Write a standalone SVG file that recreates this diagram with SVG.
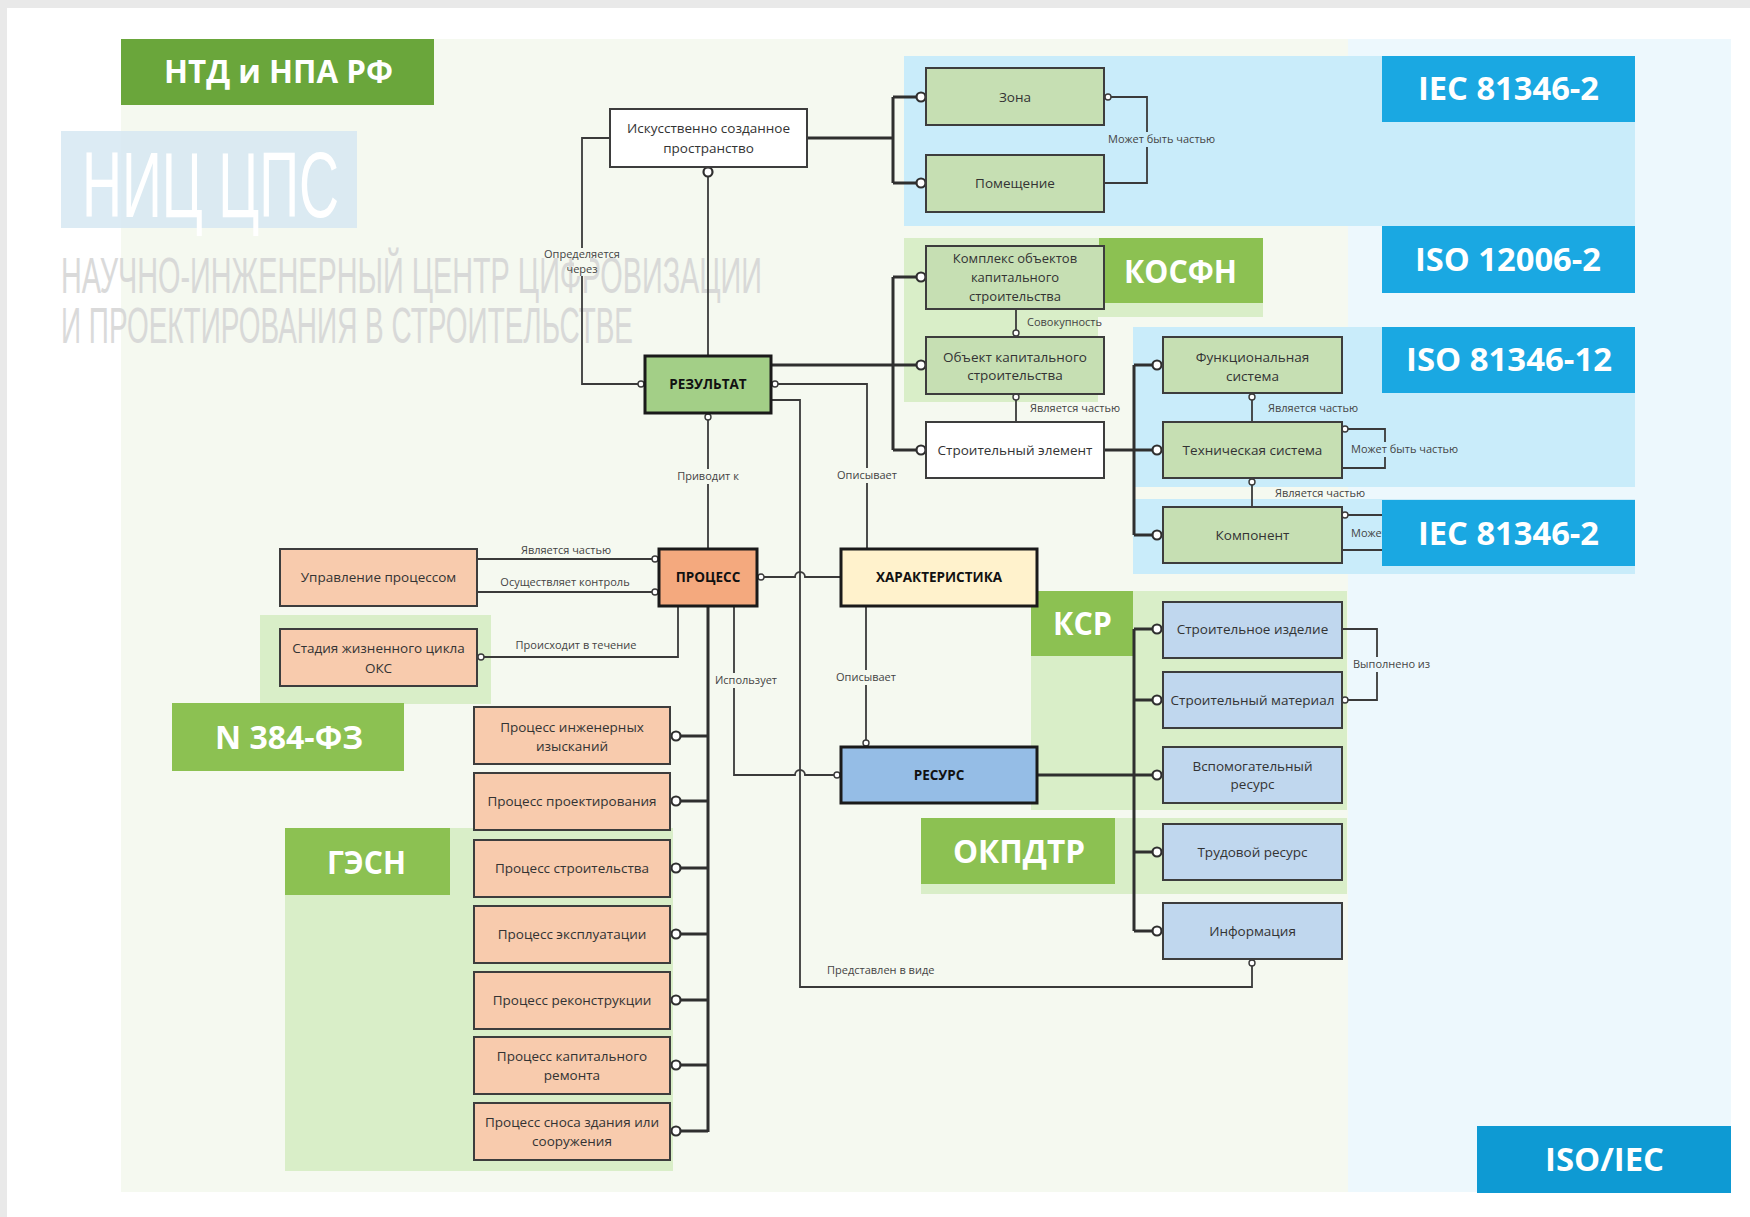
<svg xmlns="http://www.w3.org/2000/svg" width="1750" height="1217" viewBox="0 0 1750 1217">
  <defs>
    <style>
      .frame { fill: #e9e9e9; }
      .bg-g { fill: #f5f9f0; }
      .bg-b { fill: #edf8fd; }
      .band { fill: #c9ecfa; }
      .zone { fill: #d9eec8; }
      .tag-dark { fill: #6aa63b; }
      .tag-g { fill: #8cc152; }
      .tag-b { fill: #1aa8e2; }
      .tag-b2 { fill: #0e9ad3; }
      .tag-t { font-family: "Open Sans", "Liberation Sans", sans-serif; font-weight: 700; font-size: 33px; fill: #ffffff; }
      .wm { font-family: "Liberation Sans", "DejaVu Sans", sans-serif; font-size: 50px; fill: #d4d4d4; opacity: 0.85; }
      .node rect { stroke: #3d3d3d; stroke-width: 2; }
      .node.main rect { stroke: #1a1a1a; stroke-width: 3; }
      .f-w { fill: #ffffff; }
      .f-g { fill: #c6dfb3; }
      .f-p { fill: #f8cbad; }
      .f-r { fill: #c0d7ee; }
      .node text { font-family: "Open Sans", "Liberation Sans", sans-serif; font-size: 13.5px; fill: #333333; text-anchor: middle; }
      .node text.sm { font-size: 13px; }
      .node.main text { font-weight: 700; fill: #111111; font-size: 13.5px; }
      .c { fill: none; stroke: #3a3a3a; stroke-width: 1.8; }
      .ct { fill: none; stroke: #2f2f2f; stroke-width: 3; }
      .o { fill: #ffffff; stroke: #2f2f2f; stroke-width: 2.2; }
      .os { fill: #ffffff; stroke: #3a3a3a; stroke-width: 1.4; }
      .lbl { font-family: "Open Sans", "Liberation Sans", sans-serif; font-size: 11px; fill: #444444; }
      .mid { text-anchor: middle; }
    </style>
  </defs>

  <!-- page and tinted panels -->
  <rect width="1750" height="1217" fill="#ffffff"/>
  <rect class="frame" x="0" y="0" width="1750" height="8"/>
  <rect class="frame" x="0" y="0" width="7" height="1217"/>
  <rect class="bg-g" x="121" y="39" width="1227" height="1153"/>
  <rect class="bg-b" x="1348" y="39" width="383" height="1153"/>

  <!-- standard coverage areas -->
  <g id="areas">
    <rect class="band" x="904" y="56" width="731" height="170"/>
    <path class="zone" d="M904,238 H1263 V317 H1098 V402 H904 Z"/>
    <rect class="band" x="1133" y="327" width="502" height="160"/>
    <rect class="band" x="1133" y="499" width="502" height="75"/>
    <rect class="zone" x="1031" y="591" width="316" height="219"/>
    <rect class="zone" x="921" y="818" width="426" height="76"/>
    <rect class="zone" x="260" y="615" width="231" height="89"/>
    <rect class="zone" x="285" y="828" width="388" height="343"/>
  </g>

  <!-- watermark -->
  <g id="watermark">
    <rect x="61" y="131" width="296" height="97" fill="#d6e7f2" opacity="0.85"/>
    <text x="82" y="217" font-family="Liberation Sans, DejaVu Sans, sans-serif" font-size="92" fill="#ffffff" textLength="257" lengthAdjust="spacingAndGlyphs">НИЦ ЦПС</text>
    <text class="wm" x="61" y="293" textLength="701" lengthAdjust="spacingAndGlyphs">НАУЧНО-ИНЖЕНЕРНЫЙ ЦЕНТР ЦИФРОВИЗАЦИИ</text>
    <text class="wm" x="61" y="343" textLength="572" lengthAdjust="spacingAndGlyphs">И ПРОЕКТИРОВАНИЯ В СТРОИТЕЛЬСТВЕ</text>
  </g>

  <!-- standard tags -->
  <g id="tag-ntd">
    <rect class="tag-dark" x="121" y="39" width="313" height="66"/>
    <text class="tag-t" x="164" y="83" font-size="31" textLength="229" lengthAdjust="spacingAndGlyphs">НТД и НПА РФ</text>
  </g>
  <g id="tag-iec-1">
    <rect class="tag-b" x="1382" y="56" width="253" height="66"/>
    <text class="tag-t" x="1418" y="100" textLength="181" lengthAdjust="spacingAndGlyphs">IEC 81346-2</text>
  </g>
  <g id="tag-iso-12006">
    <rect class="tag-b" x="1382" y="226" width="253" height="67"/>
    <text class="tag-t" x="1415" y="271" textLength="186" lengthAdjust="spacingAndGlyphs">ISO 12006-2</text>
  </g>
  <g id="tag-iso-81346">
    <rect class="tag-b" x="1382" y="327" width="253" height="66"/>
    <text class="tag-t" x="1406" y="371" textLength="206" lengthAdjust="spacingAndGlyphs">ISO 81346-12</text>
  </g>
  <g id="tag-kosfn">
    <rect class="tag-g" x="1099" y="238" width="164" height="65"/>
    <text class="tag-t" x="1124" y="283" textLength="113" lengthAdjust="spacingAndGlyphs">КОСФН</text>
  </g>
  <g id="tag-ksr">
    <rect class="tag-g" x="1031" y="591" width="102" height="65"/>
    <text class="tag-t" x="1053" y="635" textLength="59" lengthAdjust="spacingAndGlyphs">КСР</text>
  </g>
  <g id="tag-384">
    <rect class="tag-g" x="172" y="703" width="232" height="68"/>
    <text class="tag-t" x="215" y="749" textLength="148" lengthAdjust="spacingAndGlyphs">N 384-ФЗ</text>
  </g>
  <g id="tag-gesn">
    <rect class="tag-g" x="285" y="828" width="165" height="67"/>
    <text class="tag-t" x="327" y="874" textLength="79" lengthAdjust="spacingAndGlyphs">ГЭСН</text>
  </g>
  <g id="tag-okpdtr">
    <rect class="tag-g" x="921" y="818" width="194" height="66"/>
    <text class="tag-t" x="953" y="863" textLength="132" lengthAdjust="spacingAndGlyphs">ОКПДТР</text>
  </g>
  <g id="tag-isoiec">
    <rect class="tag-b2" x="1477" y="1126" width="254" height="67"/>
    <text class="tag-t" x="1545" y="1171" textLength="119" lengthAdjust="spacingAndGlyphs">ISO/IEC</text>
  </g>

  <!-- connectors -->
  <g id="connectors">
    <!-- space -> zone / room -->
    <path class="ct" d="M807,138 H893 M893,97 V183 M893,97 H917 M893,183 H917"/>
    <path class="c" d="M1111,97 H1147 V183 H1104"/>
    <rect x="1106" y="132" width="118" height="15" fill="#c9ecfa"/>
    <text class="lbl" x="1108" y="143">Может быть частью</text>

    <!-- defined through -->
    <path class="c" d="M610,138 H582 V384 H638"/>
    <rect x="574" y="248" width="16" height="28" fill="#f5f9f0"/>
    <text class="lbl mid" x="582" y="258">Определяется</text>
    <text class="lbl mid" x="582" y="273">через</text>

    <!-- space -> result -->
    <path class="c" d="M708,177 V356"/>

    <!-- result -> building objects -->
    <path class="ct" d="M771,365 H917 M893,277 V450 M893,277 H917 M893,450 H917"/>
    <path class="c" d="M1016,309 V330"/>
    <text class="lbl" x="1027" y="326">Совокупность</text>
    <path class="c" d="M1016,400 V422"/>
    <text class="lbl" x="1030" y="412">Является частью</text>

    <!-- element -> systems -->
    <path class="ct" d="M1104,450 H1152 M1134,365 V535 M1134,365 H1152 M1134,535 H1152"/>
    <path class="c" d="M1252,400 V422"/>
    <text class="lbl" x="1268" y="412">Является частью</text>
    <path class="c" d="M1252,485 V507"/>
    <text class="lbl" x="1275" y="497">Является частью</text>
    <path class="c" d="M1348,429 H1385 V468 H1342"/>
    <rect x="1349" y="442" width="118" height="15" fill="#c9ecfa"/>
    <text class="lbl" x="1351" y="453">Может быть частью</text>
    <path class="c" d="M1348,515 H1385 V550 H1342"/>
    <rect x="1349" y="526" width="40" height="15" fill="#c9ecfa"/>
    <text class="lbl" x="1351" y="537">Может быть частью</text>

    <!-- result -> characteristic -->
    <path class="c" d="M778,384 H867 V549"/>
    <rect x="835" y="468" width="64" height="15" fill="#f5f9f0"/>
    <text class="lbl mid" x="867" y="479">Описывает</text>

    <!-- result -> information -->
    <path class="c" d="M771,400 H800 V987 H1252 V966"/>
    <text class="lbl" x="827" y="974">Представлен в виде</text>

    <!-- result -> process -->
    <path class="c" d="M708,420 V549"/>
    <rect x="674" y="469" width="68" height="15" fill="#f5f9f0"/>
    <text class="lbl mid" x="708" y="480">Приводит к</text>

    <!-- management -> process -->
    <path class="c" d="M477,559 H652 M477,592 H652"/>
    <text class="lbl mid" x="566" y="554">Является частью</text>
    <text class="lbl mid" x="565" y="586">Осуществляет контроль</text>

    <!-- life-cycle stage -> process -->
    <path class="c" d="M484,657 H678 V606"/>
    <text class="lbl mid" x="576" y="649">Происходит в течение</text>

    <!-- process -> characteristic, with a hop over the trunk -->
    <path class="c" d="M764,577 H795 A5,5 0 0 1 805,577 H841"/>

    <!-- process -> resource -->
    <path class="c" d="M734,606 V775 H795 A5,5 0 0 1 805,775 H834"/>
    <rect x="713" y="673" width="67" height="15" fill="#f5f9f0"/>
    <text class="lbl mid" x="746" y="684">Использует</text>

    <!-- characteristic -> resource -->
    <path class="c" d="M866,606 V740"/>
    <rect x="834" y="670" width="64" height="15" fill="#f5f9f0"/>
    <text class="lbl mid" x="866" y="681">Описывает</text>

    <!-- process kinds -->
    <path class="ct" stroke-width="3.5" d="M708,606 V1132 M708,736 H681 M708,801 H681 M708,868 H681 M708,934 H681 M708,1000 H681 M708,1065 H681 M708,1131 H681"/>

    <!-- resource kinds -->
    <path class="ct" d="M1037,775 H1152 M1134,629 V931 M1134,629 H1152 M1134,700 H1152 M1134,852 H1152 M1134,931 H1152"/>
    <path class="c" d="M1342,629 H1377 V700 H1348"/>
    <rect x="1352" y="657" width="86" height="15" fill="#edf8fd"/>
    <text class="lbl" x="1353" y="668">Выполнено из</text>

    <!-- end markers -->
    <g>
      <circle class="o" cx="921" cy="97" r="4.5"/>
      <circle class="o" cx="921" cy="183" r="4.5"/>
      <circle class="o" cx="921" cy="277" r="4.5"/>
      <circle class="o" cx="921" cy="365" r="4.5"/>
      <circle class="o" cx="921" cy="450" r="4.5"/>
      <circle class="o" cx="1157" cy="365" r="4.5"/>
      <circle class="o" cx="1157" cy="450" r="4.5"/>
      <circle class="o" cx="1157" cy="535" r="4.5"/>
      <circle class="o" cx="1157" cy="629" r="4.5"/>
      <circle class="o" cx="1157" cy="700" r="4.5"/>
      <circle class="o" cx="1157" cy="775" r="4.5"/>
      <circle class="o" cx="1157" cy="852" r="4.5"/>
      <circle class="o" cx="1157" cy="931" r="4.5"/>
      <circle class="o" cx="676" cy="736" r="4.5"/>
      <circle class="o" cx="676" cy="801" r="4.5"/>
      <circle class="o" cx="676" cy="868" r="4.5"/>
      <circle class="o" cx="676" cy="934" r="4.5"/>
      <circle class="o" cx="676" cy="1000" r="4.5"/>
      <circle class="o" cx="676" cy="1065" r="4.5"/>
      <circle class="o" cx="676" cy="1131" r="4.5"/>
      <circle class="o" cx="708" cy="172" r="4.5"/>
      <circle class="os" cx="1108" cy="97" r="3"/>
      <circle class="os" cx="641" cy="384" r="3"/>
      <circle class="os" cx="775" cy="384" r="3"/>
      <circle class="os" cx="708" cy="417" r="3"/>
      <circle class="os" cx="655" cy="559" r="3"/>
      <circle class="os" cx="655" cy="592" r="3"/>
      <circle class="os" cx="761" cy="577" r="3"/>
      <circle class="os" cx="481" cy="657" r="3"/>
      <circle class="os" cx="837" cy="775" r="3"/>
      <circle class="os" cx="866" cy="743" r="3"/>
      <circle class="os" cx="1016" cy="333" r="3"/>
      <circle class="os" cx="1016" cy="397" r="3"/>
      <circle class="os" cx="1252" cy="397" r="3"/>
      <circle class="os" cx="1252" cy="482" r="3"/>
      <circle class="os" cx="1345" cy="429" r="3"/>
      <circle class="os" cx="1345" cy="515" r="3"/>
      <circle class="os" cx="1345" cy="700" r="3"/>
      <circle class="os" cx="1252" cy="963" r="3"/>
    </g>
  </g>

  <!-- second IEC tag lies over the component loop -->
  <g id="tag-iec-2">
    <rect class="tag-b" x="1382" y="500" width="253" height="66"/>
    <text class="tag-t" x="1418" y="545" textLength="181" lengthAdjust="spacingAndGlyphs">IEC 81346-2</text>
  </g>

  <!-- nodes -->
  <g id="n-space" class="node"><rect class="f-w" x="610" y="109" width="197" height="58"/><text x="708.5" y="133">Искусственно созданное</text><text x="708.5" y="153">пространство</text></g>
  <g id="n-zone" class="node"><rect class="f-g" x="926" y="68" width="178" height="57"/><text x="1015" y="102">Зона</text></g>
  <g id="n-room" class="node"><rect class="f-g" x="926" y="155" width="178" height="57"/><text x="1015" y="188">Помещение</text></g>
  <g id="n-complex" class="node"><rect class="f-g" x="926" y="246" width="178" height="63"/><text class="sm" x="1015" y="263">Комплекс объектов</text><text class="sm" x="1015" y="282">капитального</text><text class="sm" x="1015" y="301">строительства</text></g>
  <g id="n-object" class="node"><rect class="f-g" x="926" y="337" width="178" height="57"/><text x="1015" y="362">Объект капитального</text><text x="1015" y="380">строительства</text></g>
  <g id="n-element" class="node"><rect class="f-w" x="926" y="422" width="178" height="56"/><text x="1015" y="455">Строительный элемент</text></g>
  <g id="n-funcsys" class="node"><rect class="f-g" x="1163" y="337" width="179" height="56"/><text x="1252.5" y="362">Функциональная</text><text x="1252.5" y="381">система</text></g>
  <g id="n-techsys" class="node"><rect class="f-g" x="1163" y="422" width="179" height="56"/><text x="1252.5" y="455">Техническая система</text></g>
  <g id="n-component" class="node"><rect class="f-g" x="1163" y="507" width="179" height="56"/><text x="1252.5" y="540">Компонент</text></g>

  <g id="n-result" class="node main"><rect x="645" y="356" width="126" height="57" fill="#a3cf87"/><text x="708" y="389">РЕЗУЛЬТАТ</text></g>
  <g id="n-process" class="node main"><rect x="659" y="549" width="98" height="57" fill="#f4a97e"/><text x="708" y="582">ПРОЦЕСС</text></g>
  <g id="n-charact" class="node main"><rect x="841" y="549" width="196" height="57" fill="#fff2cc"/><text x="939" y="582">ХАРАКТЕРИСТИКА</text></g>
  <g id="n-resource" class="node main"><rect x="841" y="747" width="196" height="56" fill="#95bde6"/><text x="939" y="780">РЕСУРС</text></g>

  <g id="n-management" class="node"><rect class="f-p" x="280" y="549" width="197" height="57"/><text x="378.5" y="582">Управление процессом</text></g>
  <g id="n-stage" class="node"><rect class="f-p" x="280" y="629" width="197" height="57"/><text x="378.5" y="653">Стадия жизненного цикла</text><text x="378.5" y="673">ОКС</text></g>

  <g id="n-p-survey" class="node"><rect class="f-p" x="474" y="707" width="196" height="57"/><text x="572" y="732">Процесс инженерных</text><text x="572" y="751">изысканий</text></g>
  <g id="n-p-design" class="node"><rect class="f-p" x="474" y="773" width="196" height="57"/><text x="572" y="806">Процесс проектирования</text></g>
  <g id="n-p-build" class="node"><rect class="f-p" x="474" y="840" width="196" height="57"/><text x="572" y="873">Процесс строительства</text></g>
  <g id="n-p-operate" class="node"><rect class="f-p" x="474" y="906" width="196" height="57"/><text x="572" y="939">Процесс эксплуатации</text></g>
  <g id="n-p-reconstr" class="node"><rect class="f-p" x="474" y="972" width="196" height="57"/><text x="572" y="1005">Процесс реконструкции</text></g>
  <g id="n-p-repair" class="node"><rect class="f-p" x="474" y="1037" width="196" height="57"/><text x="572" y="1061">Процесс капитального</text><text x="572" y="1080">ремонта</text></g>
  <g id="n-p-demolish" class="node"><rect class="f-p" x="474" y="1103" width="196" height="57"/><text x="572" y="1127">Процесс сноса здания или</text><text x="572" y="1146">сооружения</text></g>

  <g id="n-product" class="node"><rect class="f-r" x="1163" y="602" width="179" height="56"/><text x="1252.5" y="634">Строительное изделие</text></g>
  <g id="n-material" class="node"><rect class="f-r" x="1163" y="672" width="179" height="56"/><text x="1252.5" y="705">Строительный материал</text></g>
  <g id="n-aux" class="node"><rect class="f-r" x="1163" y="747" width="179" height="56"/><text x="1252.5" y="771">Вспомогательный</text><text x="1252.5" y="789">ресурс</text></g>
  <g id="n-labour" class="node"><rect class="f-r" x="1163" y="824" width="179" height="56"/><text x="1252.5" y="857">Трудовой ресурс</text></g>
  <g id="n-info" class="node"><rect class="f-r" x="1163" y="903" width="179" height="56"/><text x="1252.5" y="936">Информация</text></g>
</svg>
